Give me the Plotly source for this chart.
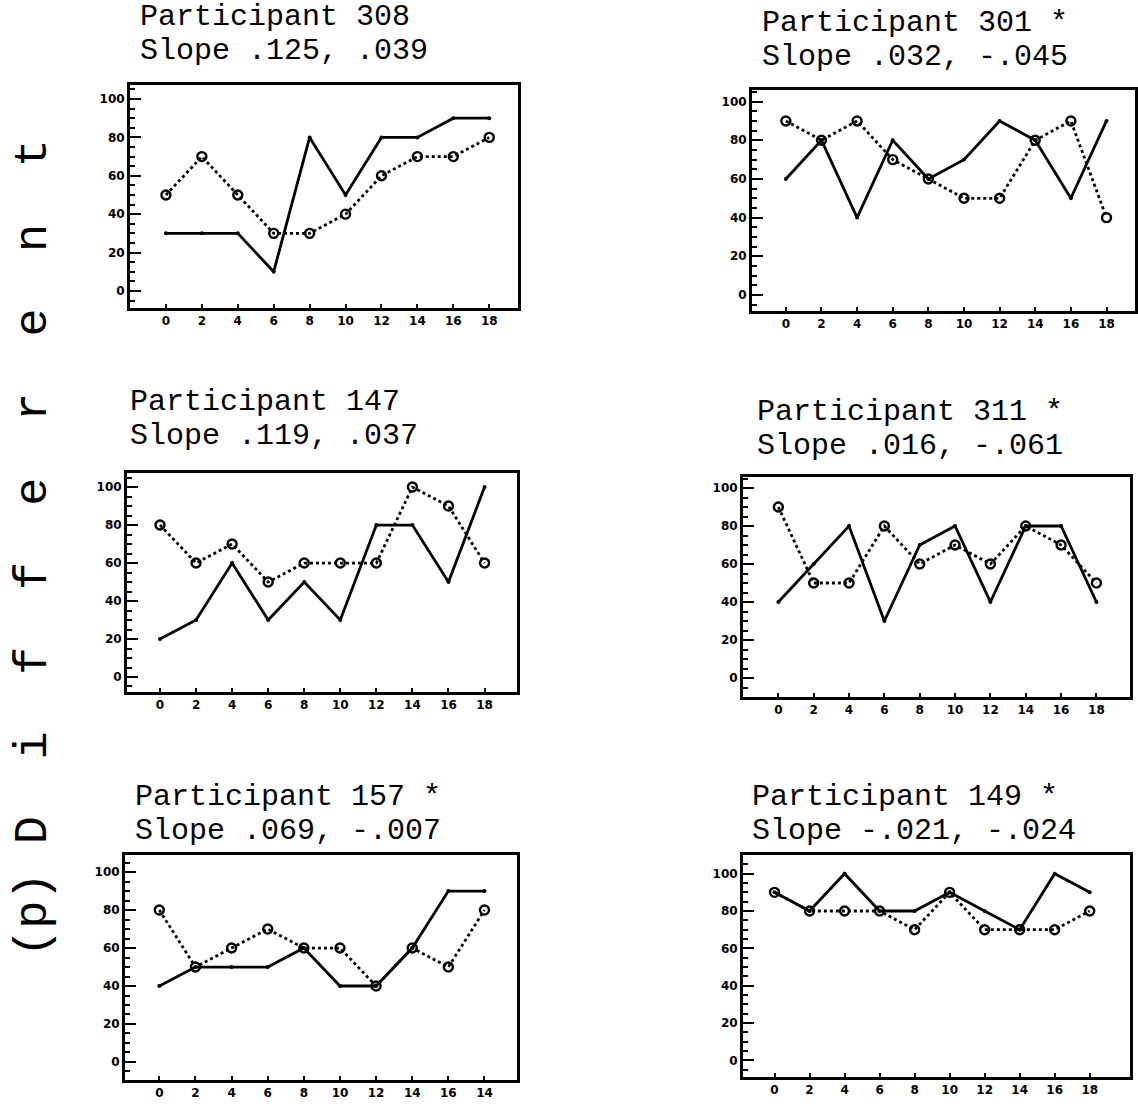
import plotly.graph_objects as go

# ---- data -------------------------------------------------------------
sessions = [0, 2, 4, 6, 8, 10, 12, 14, 16, 18]
tick_labels_std = ["0", "2", "4", "6", "8", "10", "12", "14", "16", "18"]
tick_labels_157 = ["0", "2", "4", "6", "8", "10", "12", "14", "16", "14"]

participants = ["308", "301 *", "147", "311 *", "157 *", "149 *"]
slopes = [".125, .039", ".032, -.045", ".119, .037",
          ".016, -.061", ".069, -.007", "-.021, -.024"]

solid_308 = [30, 30, 30, 10, 80, 50, 80, 80, 90, 90]
dotted_308 = [50, 70, 50, 30, 30, 40, 60, 70, 70, 80]

solid_301 = [60, 80, 40, 80, 60, 70, 90, 80, 50, 90]
dotted_301 = [90, 80, 90, 70, 60, 50, 50, 80, 90, 40]

solid_147 = [20, 30, 60, 30, 50, 30, 80, 80, 50, 100]
dotted_147 = [80, 60, 70, 50, 60, 60, 60, 100, 90, 60]

solid_311 = [40, 60, 80, 30, 70, 80, 40, 80, 80, 40]
dotted_311 = [90, 50, 50, 80, 60, 70, 60, 80, 70, 50]

solid_157 = [40, 50, 50, 50, 60, 40, 40, 60, 90, 90]
dotted_157 = [80, 50, 60, 70, 60, 60, 40, 60, 50, 80]

solid_149 = [90, 80, 100, 80, 80, 90, 80, 70, 100, 90]
dotted_149 = [90, 80, 80, 80, 70, 90, 70, 70, 70, 80]

y_ticks = [0, 20, 40, 60, 80, 100]

solid_series = [solid_308, solid_301, solid_147, solid_311, solid_157, solid_149]
dotted_series = [dotted_308, dotted_301, dotted_147, dotted_311, dotted_157, dotted_149]
x_labels = [tick_labels_std, tick_labels_std, tick_labels_std,
            tick_labels_std, tick_labels_157, tick_labels_std]

# ---- layout geometry (pixels on a 1138 x 1104 page) --------------------
W, H = 1138, 1104
frames = [(130, 518, 85, 308), (752, 1135, 90, 311),
          (127, 517, 473, 692), (743, 1130, 477, 697),
          (125, 517, 855, 1080), (743, 1130, 855, 1077)]
x_ranges = [(-2.0, 19.6), (-1.9, 19.6), (-1.83, 19.8),
            (-2.0, 19.9), (-1.9, 19.8), (-1.8, 20.3)]
y_ranges = [(-8.9, 107.3), (-8.3, 106), (-7.9, 107.4),
            (-10, 105.8), (-9.5, 109), (-8.9, 110)]
# left edge, centre of first title line, centre of second title line
title_pos = [(138, 17, 51), (760, 23, 57), (128, 402, 436),
             (755, 412, 446), (133, 797, 831), (750, 797, 831)]

MONO = "Liberation Mono"
tick_font = dict(family="DejaVu Sans", size=12, color="black", weight="bold")
title_font = dict(family=MONO, size=30, color="black")

fig = go.Figure()
layout = dict(width=W, height=H, margin=dict(l=0, r=0, t=0, b=0),
              plot_bgcolor="white", paper_bgcolor="white", showlegend=False)
annotations = []

for i in range(6):
    n = i + 1
    xa = "x" if n == 1 else f"x{n}"
    ya = "y" if n == 1 else f"y{n}"
    x0, x1, y0, y1 = frames[i]

    fig.add_trace(go.Scatter(
        x=sessions, y=solid_series[i], xaxis=xa, yaxis=ya,
        mode="lines+markers",
        line=dict(color="black", width=2.8),
        marker=dict(color="black", size=4),
        cliponaxis=False))
    fig.add_trace(go.Scatter(
        x=sessions, y=dotted_series[i], xaxis=xa, yaxis=ya,
        mode="lines+markers",
        line=dict(color="black", width=2.8, dash="dot"),
        marker=dict(symbol="circle-open", color="black", size=9,
                    line=dict(color="black", width=2.4)),
        cliponaxis=False))

    layout[f"xaxis{n if n > 1 else ''}"] = dict(
        domain=[x0 / W, x1 / W], range=list(x_ranges[i]), anchor=ya,
        showline=True, linewidth=3, linecolor="black", mirror=True,
        showgrid=False, zeroline=False,
        tickmode="array", tickvals=sessions, ticktext=x_labels[i],
        ticks="inside", ticklen=4, tickwidth=1.5, tickcolor="black",
        tickfont=tick_font)
    layout[f"yaxis{n if n > 1 else ''}"] = dict(
        domain=[1 - y1 / H, 1 - y0 / H], range=list(y_ranges[i]), anchor=xa,
        showline=True, linewidth=3, linecolor="black", mirror=True,
        showgrid=False, zeroline=False,
        tickmode="array", tickvals=y_ticks,
        ticks="inside", ticklen=11, tickwidth=2, tickcolor="black",
        minor=dict(tick0=0, dtick=5, ticks="inside", ticklen=5,
                   tickwidth=1.5, tickcolor="black", showgrid=False),
        tickfont=tick_font)

    tx, ty1, ty2 = title_pos[i]
    annotations.append(dict(
        text=f"Participant {participants[i]}", xref="paper", yref="paper",
        x=tx / W, y=1 - ty1 / H, xanchor="left", yanchor="middle",
        showarrow=False, font=title_font))
    annotations.append(dict(
        text=f"Slope {slopes[i]}", xref="paper", yref="paper",
        x=tx / W, y=1 - ty2 / H, xanchor="left", yanchor="middle",
        showarrow=False, font=title_font))

# vertical side label, letters spread out
sp = "\u00a0"
side_label = "(p)" + sp + "D" + "".join(sp * 2 + c for c in "ifferent")
annotations.append(dict(
    text=side_label, xref="paper", yref="paper",
    x=33 / W, y=1 - 548 / H, xanchor="center", yanchor="middle",
    textangle=-90, showarrow=False,
    font=dict(family=MONO, size=47, color="black")))

layout["annotations"] = annotations
fig.update_layout(**layout)
fig.write_html("out.html")
